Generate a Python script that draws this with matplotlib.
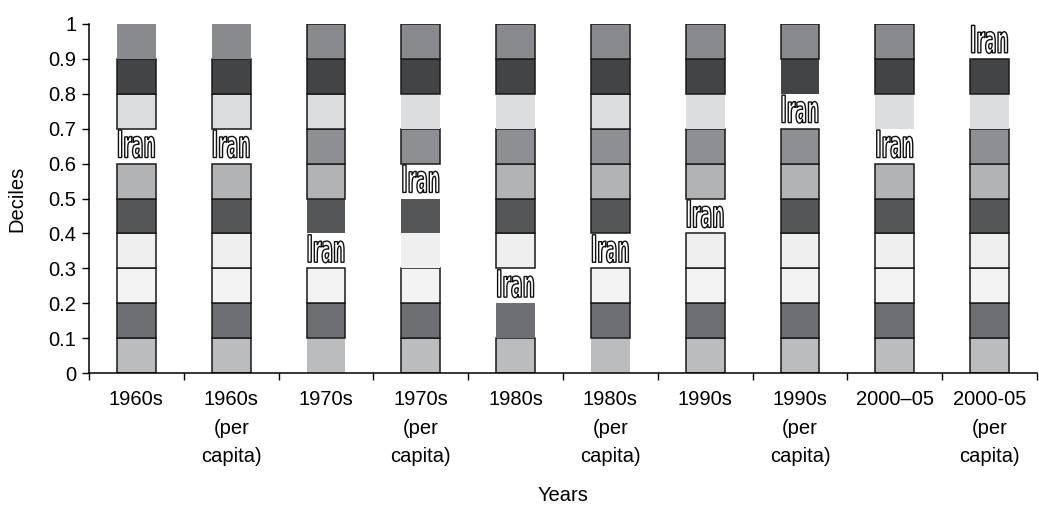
import matplotlib
matplotlib.use("Agg")
import matplotlib.pyplot as plt
import matplotlib.transforms as mtransforms
from matplotlib.textpath import TextPath
from matplotlib.patches import PathPatch
from matplotlib.font_manager import FontProperties

# data
years = ["1960s", "1960s\n(per\ncapita)", "1970s", "1970s\n(per\ncapita)", "1980s",
         "1980s\n(per\ncapita)", "1990s", "1990s\n(per\ncapita)", "2000\u201305",
         "2000-05\n(per\ncapita)"]
deciles = [0.0, 0.1, 0.2, 0.3, 0.4, 0.5, 0.6, 0.7, 0.8, 0.9]
decile_height = 0.1
iran_decile = [6, 6, 3, 5, 2, 3, 4, 7, 6, 9]   # index of decile where Iran sits
country = "Iran"

# style
cell_colors = ["#bbbcbe", "#6e6f72", "#f3f3f3", "#efefef", "#555658",
               "#b2b3b5", "#8e8f92", "#dcdddf", "#434446", "#898a8d"]
# cells drawn without an outline (bar index, decile index)
no_edge = {(0, 9), (1, 9), (2, 4), (2, 0), (3, 7), (3, 4), (3, 3), (4, 7), (4, 1),
           (5, 0), (6, 7), (7, 8), (8, 7), (9, 7)}

plt.rcParams["font.family"] = ["Liberation Sans", "DejaVu Sans"]

fig = plt.figure(figsize=(10.39, 5.08), dpi=100)
ax = fig.add_axes([0.0857, 0.2657, 0.9123, 0.6871])

bar_w = 0.41
for i in range(len(years)):
    for j, d in enumerate(deciles):
        if j == iran_decile[i]:
            continue
        if (i, j) in no_edge:
            ax.bar(i, decile_height, bottom=d, width=bar_w, color=cell_colors[j],
                   edgecolor="none")
        else:
            ax.bar(i, decile_height, bottom=d, width=bar_w, color=cell_colors[j],
                   edgecolor="#1a1a1a", linewidth=1.1)

ax.set_xlim(-0.5, len(years) - 0.5)
ax.set_ylim(0, 1)

# outlined, condensed "Iran" labels
fp = FontProperties(family="Liberation Sans Narrow", weight="bold")
tp = TextPath((0, 0), country, size=1, prop=fp)
ext = tp.get_extents()
cx, cy = (ext.x0 + ext.x1) / 2, (ext.y0 + ext.y1) / 2
sx = 36 / ext.width
sy = 28 / ext.height
for i, k in enumerate(iran_decile):
    yc = deciles[k] + 0.056
    tr = (mtransforms.Affine2D().translate(-cx, -cy).scale(sx, sy)
          + mtransforms.ScaledTranslation(i, yc, ax.transData))
    p = PathPatch(tp, transform=tr, facecolor="white", edgecolor="#111111",
                  linewidth=1.0, clip_on=False)
    ax.add_artist(p)

for s in ["top", "right"]:
    ax.spines[s].set_visible(False)
for s in ["left", "bottom"]:
    ax.spines[s].set_linewidth(1.1)

ax.set_yticks(deciles + [1.0])
ax.set_yticklabels(["0"] + ["%.1f" % d for d in deciles[1:]] + ["1"])
ax.tick_params(axis="y", length=5, width=1, labelsize=14.5, pad=4)

ax.set_xticks(range(len(years)))
ax.set_xticklabels(years, linespacing=1.66)
ax.set_xticks([x - 0.5 for x in range(len(years) + 1)], minor=True)
ax.tick_params(axis="x", which="major", length=0, labelsize=14.5, pad=12)
ax.tick_params(axis="x", which="minor", length=5, width=1)

ax.set_ylabel("Deciles", fontsize=14.5, labelpad=16)
ax.set_xlabel("Years", fontsize=14.5, labelpad=14)

fig.savefig("out.png", dpi=100)
